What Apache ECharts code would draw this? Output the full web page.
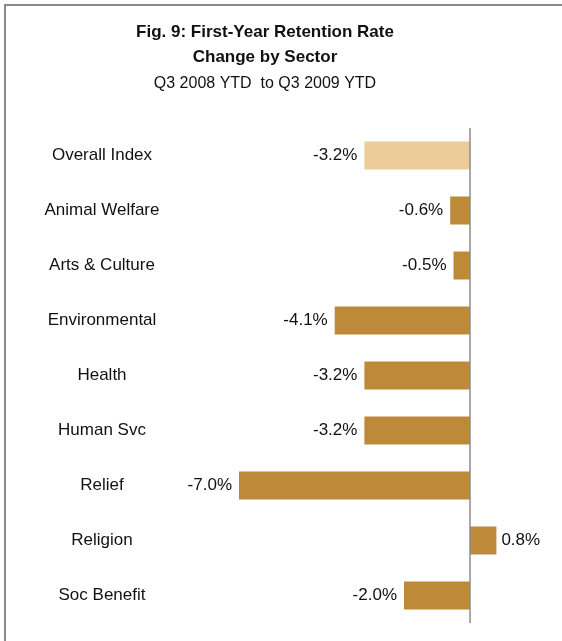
<!DOCTYPE html>
<html>
<head>
<meta charset="utf-8">
<script src="https://cdn.jsdelivr.net/npm/echarts@6/dist/echarts.min.js"></script>
<style>
  html, body { margin: 0; padding: 0; background: #fff; }
  #chart { width: 562px; height: 641px; }
</style>
</head>
<body>
<div id="chart"></div>
<script>
// Sectors, top to bottom
const categories = [
  'Overall Index', 'Animal Welfare', 'Arts & Culture', 'Environmental',
  'Health', 'Human Svc', 'Relief', 'Religion', 'Soc Benefit'
];
// Change in first-year retention rate, percentage points
const values = [-3.2, -0.6, -0.5, -4.1, -3.2, -3.2, -7.0, 0.8, -2.0];
// Category drawn in the lighter tone
const highlightCategory = 'Overall Index';

const FONT = '"Liberation Sans", Arial, sans-serif';
const GOLD = '#bd8a3a';
const TAN = '#eccc98';

const chart = echarts.init(document.getElementById('chart'), null, { renderer: 'canvas' });

chart.setOption({
  animation: false,
  backgroundColor: '#ffffff',
  title: {
    text: 'Fig. 9: First-Year Retention Rate\nChange by Sector',
    subtext: 'Q3 2008 YTD  to Q3 2009 YTD',
    left: 260,
    textAlign: 'center',
    top: 15,
    itemGap: 5,
    textStyle: {
      fontFamily: FONT, fontSize: 17, fontWeight: 'bold', color: '#111', lineHeight: 25
    },
    subtextStyle: {
      fontFamily: FONT, fontSize: 16, color: '#111', lineHeight: 18
    }
  },
  graphic: [{
    type: 'rect',
    shape: { x: 5, y: 5, width: 700, height: 800 },
    style: { fill: 'none', stroke: '#8a8a8a', lineWidth: 2 },
    silent: true
  }],
  grid: { left: 206, right: 26, top: 128, bottom: 18 },
  xAxis: {
    type: 'value',
    min: -8,
    max: 2,
    show: false,
    splitLine: { show: false }
  },
  yAxis: {
    type: 'category',
    data: categories,
    inverse: true,
    axisLine: { show: false },
    axisTick: { show: false },
    axisLabel: {
      align: 'center',
      margin: 104,
      fontFamily: FONT,
      fontSize: 17,
      color: '#111'
    }
  },
  series: [{
    type: 'bar',
    barWidth: 28,
    data: values.map((v, i) => ({
      value: v,
      itemStyle: { color: categories[i] === highlightCategory ? TAN : GOLD },
      label: {
        position: v < 0 ? 'left' : 'right',
        distance: v < 0 ? 7 : 5
      }
    })),
    label: {
      show: true,
      fontFamily: FONT,
      fontSize: 17,
      color: '#111',
      formatter: p => p.value.toFixed(1) + '%'
    },
    markLine: {
      silent: true,
      symbol: 'none',
      label: { show: false },
      lineStyle: { color: '#8c8c8c', width: 1.5, type: 'solid' },
      data: [{ xAxis: 0 }]
    }
  }]
});
</script>
</body>
</html>
